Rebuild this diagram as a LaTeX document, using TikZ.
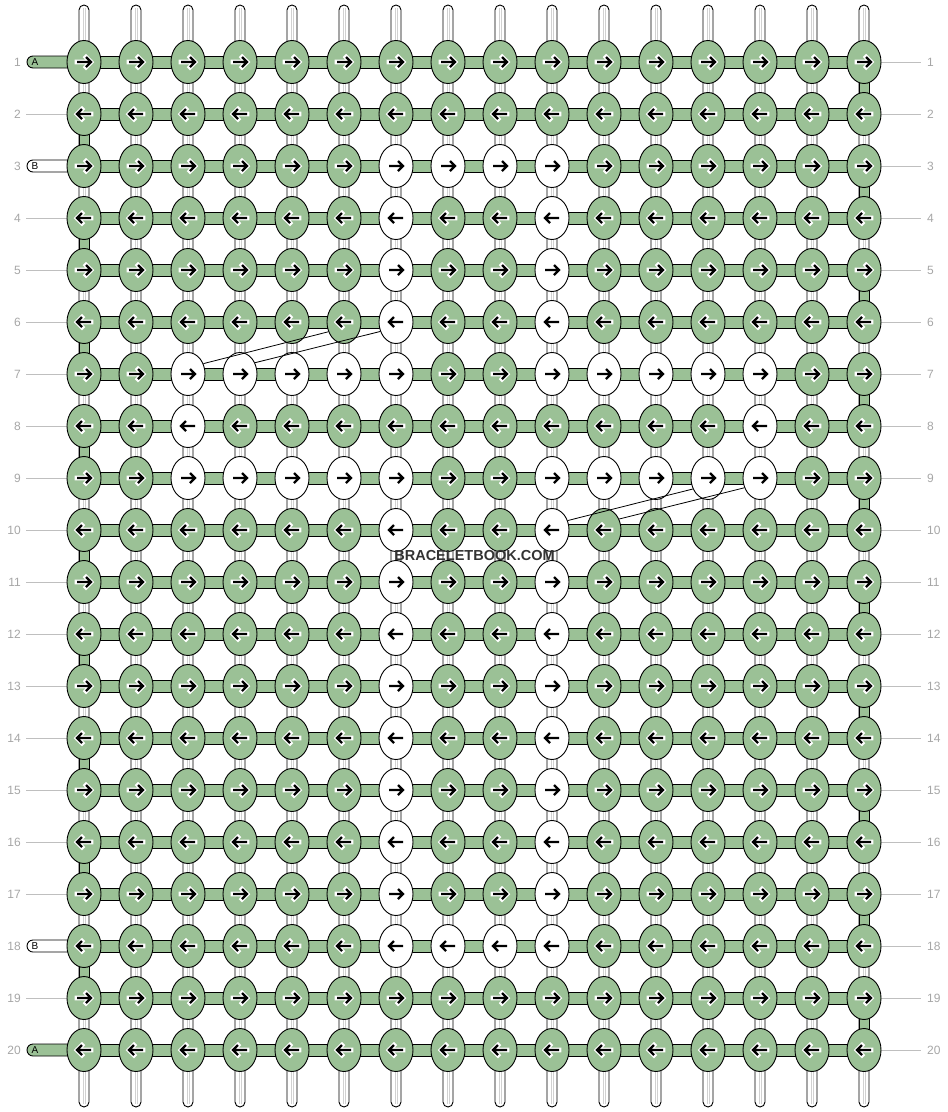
\documentclass[tikz,border=0pt]{standalone}
\usepackage{fontspec}
\setmainfont{Liberation Sans}
\usetikzlibrary{shapes.geometric,calc,backgrounds}

\definecolor{kgreen}{RGB}{155,193,150}

\tikzset{
  knot/.style={ellipse, draw=black, line width=0.9pt, minimum width=34pt, minimum height=43pt, inner sep=0pt},
  vstring/.style={draw=black, fill=white, line width=0.9pt, rounded corners=5pt},
  midline/.style={black!18, line width=0.5pt},
  band/.style={draw=black, fill=kgreen, line width=0.9pt},
  arr/.style={line width=2.4pt, line join=miter},
  halo/.style={white, line width=4.6pt, line cap=rect, line join=miter},
  lab/.style={font=\fontsize{12}{14}\selectfont, text=black!35, inner sep=2pt},
  labline/.style={black!25, line width=0.8pt},
  stubletter/.style={font=\fontsize{10}{10}\selectfont, anchor=west, inner sep=0pt},
}

\begin{document}
\begin{tikzpicture}[x=1pt, y=-1pt]
    \useasboundingbox (0,0) rectangle (948,1112);

    % White knots
    \foreach \r/\cols in {3/{7,8,9,10}, 4/{7,10}, 5/{7,10}, 6/{7,10},
        7/{3,4,5,6,7,10,11,12,13,14}, 8/{3,14}, 9/{3,4,5,6,7,10,11,12,13,14},
        10/{7,10}, 11/{7,10}, 12/{7,10}, 13/{7,10}, 14/{7,10}, 15/{7,10},
        16/{7,10}, 17/{7,10}, 18/{7,8,9,10}} {
        \foreach \c in \cols {
            \expandafter\gdef\csname wk-\r-\c\endcsname{1}
        }
    }

    % Knots
    \foreach \r in {1,...,20} {
        \foreach \c in {1,...,16} {
            \ifcsname wk-\r-\c\endcsname \def\kf{white}\else \def\kf{kgreen}\fi
            \node[knot, fill=\kf] (k-\r-\c) at (32+52*\c, 10+52*\r) {};
        }
    }

    % Arrows
    \foreach \r in {1,...,20} {
        \ifodd\r\relax \def\dir{1}\else \def\dir{-1}\fi
        \foreach \c in {1,...,16} {
            \begin{scope}[shift={(k-\r-\c.center)}, xscale=\dir]
                \ifcsname wk-\r-\c\endcsname\else
                    \draw[halo] (-7,0) -- (6,0) (2,-5) -- (7,0) -- (2,5);
                \fi
                \draw[arr] (-7,0) -- (6,0) (2,-5) -- (7,0) -- (2,5);
            \end{scope}
        }
    }

    % Row numbers
    \foreach \r in {1,...,20} {
        \node[lab, anchor=east] (ll-\r) at (23, 10+52*\r) {\r};
        \node[lab, anchor=west] (lr-\r) at (925, 10+52*\r) {\r};
    }

    % Left string ends
    \foreach \r/\l in {1/A, 3/B, 18/B, 20/A} {
        \coordinate (st-\r) at (27, 10+52*\r);
        \node[stubletter] (sl-\r) at ($(st-\r)+(4.5,0.5)$) {\l};
    }

    \begin{scope}[on background layer]
        % Vertical strings
        \foreach \c in {1,...,16} {
            \draw[vstring] ($(k-1-\c.center)+(-5,-57)$) rectangle ($(k-20-\c.center)+(5,57)$);
            \draw[midline] ($(k-1-\c.center)+(-1.2,-54)$) -- ($(k-20-\c.center)+(-1.2,54)$);
            \draw[midline] ($(k-1-\c.center)+(1.2,-54)$) -- ($(k-20-\c.center)+(1.2,54)$);
        }
        % Edge turns
        \foreach \r [evaluate=\r as \rn using int(\r+1)] in {2,4,...,18} {
            \draw[band] ($(k-\r-1.center)+(-5,0)$) rectangle ($(k-\rn-1.center)+(5,0)$);
        }
        \foreach \r [evaluate=\r as \rn using int(\r+1)] in {1,3,...,19} {
            \draw[band] ($(k-\r-16.center)+(-5,0)$) rectangle ($(k-\rn-16.center)+(5,0)$);
        }
        % Rows
        \foreach \r in {1,...,20} {
            \draw[band] ($(k-\r-1.center)+(0,-6)$) rectangle ($(k-\r-16.center)+(0,6)$);
            \draw[labline] (k-\r-16.east) -- ([xshift=-4pt]lr-\r.west);
        }
        \foreach \r/\sc in {1/kgreen, 3/white, 18/white, 20/kgreen} {
            \draw[band, fill=\sc, rounded corners=6pt] ($(st-\r)+(0,-6)$) rectangle ($(k-\r-1.center)+(0,6)$);
        }
        \foreach \r in {2,4,5,...,17,19} {
            \draw[labline] ([xshift=3pt]ll-\r.east) -- (k-\r-1.west);
        }
    \end{scope}

    % Crossing lines
    \draw[line width=0.8pt] (k-7-3.34) -- (k-6-6.212);
    \draw[line width=0.8pt] (k-7-4.37) -- (k-6-7.211);
    \draw[line width=0.8pt] (k-10-10.31) -- (k-9-13.216);
    \draw[line width=0.8pt] (k-10-11.36) -- (k-9-14.212);

    % Watermark
    \node[font=\bfseries\fontsize{14.5}{14.5}\selectfont, text=black!80, inner sep=0pt] (wm) at (474.5,555.5) {BRACELETBOOK.COM};
\end{tikzpicture}
\end{document}
